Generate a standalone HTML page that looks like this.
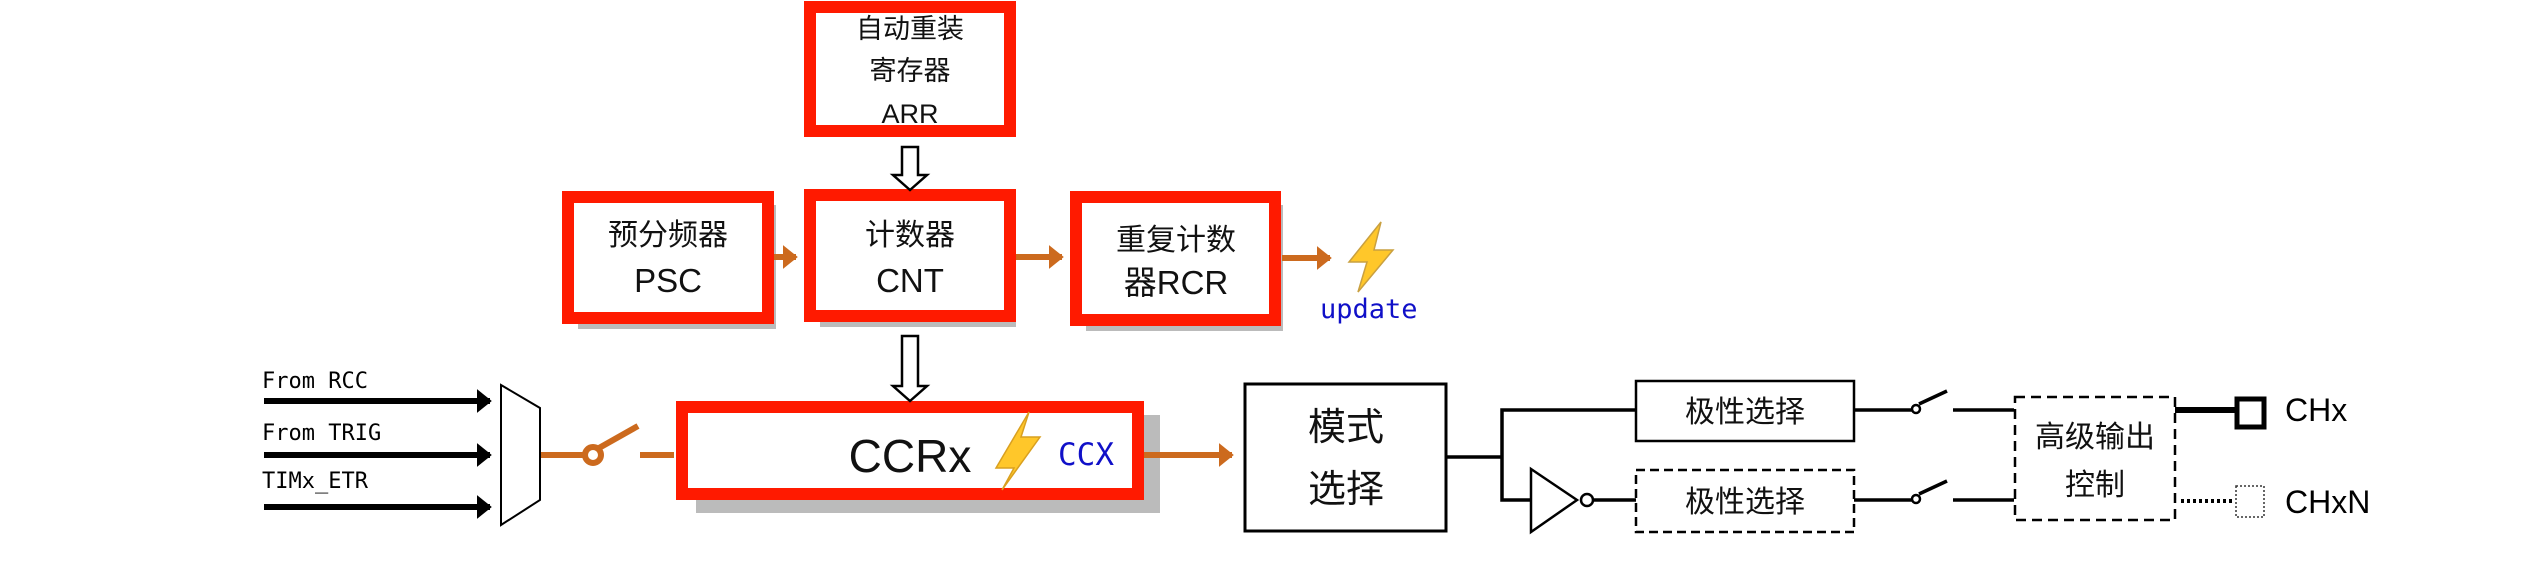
<!DOCTYPE html>
<html><head><meta charset="utf-8"><style>
html,body{margin:0;padding:0;background:#fff;}
svg{display:block;}
text{font-family:"Liberation Sans","Noto Sans CJK SC",sans-serif;}
text.m,.m text{font-family:"DejaVu Sans Mono","Liberation Mono",monospace;}
</style></head><body>
<svg width="2529" height="561" viewBox="0 0 2529 561" xmlns="http://www.w3.org/2000/svg">
<defs>
<marker id="oa" markerWidth="4" markerHeight="4" refX="2.2" refY="2" orient="auto" markerUnits="strokeWidth"><path d="M0,0 L2.5,2 L0,4 z" fill="#cc6a1e"/></marker>
<marker id="ba" markerWidth="4" markerHeight="4" refX="2.2" refY="2" orient="auto" markerUnits="strokeWidth"><path d="M0,0 L2.5,2 L0,4 z" fill="#000"/></marker>
</defs>
<g fill="#bbb">
<rect x="820" y="14" width="196" height="122"/>
<rect x="578" y="205" width="198" height="124"/>
<rect x="820" y="205" width="196" height="122"/>
<rect x="1086" y="205" width="197" height="126"/>
<rect x="696" y="415" width="464" height="98"/>
</g>
<g fill="#fff" stroke="#ff1a00" stroke-width="12">
<rect x="810" y="7" width="200" height="124"/>
<rect x="568" y="197" width="200" height="121"/>
<rect x="810" y="195" width="200" height="121"/>
<rect x="1076" y="197" width="199" height="123"/>
<rect x="682" y="407" width="456" height="87"/>
</g>
<g font-size="27" text-anchor="middle" fill="#111">
<text x="910" y="38">自动重装</text>
<text x="910" y="80">寄存器</text>
<text x="910" y="123">ARR</text>
<text x="668" y="245" font-size="30">预分频器</text>
<text x="668" y="292" font-size="33">PSC</text>
<text x="910" y="245" font-size="30">计数器</text>
<text x="910" y="292" font-size="33">CNT</text>
<text x="1176" y="250" font-size="30">重复计数</text>
<text x="1176" y="294" font-size="33">器RCR</text>
<text x="910" y="472" font-size="46">CCRx</text>
</g>
<text x="1058" y="465" font-size="31" fill="#1010c8" class="m">CCX</text>
<text x="1320" y="318" font-size="27" fill="#1010c8" class="m">update</text>
<path d="M1029,412 L996,468 L1014,468 L1002,490 L1040,437 L1021,437 Z" fill="#ffc72a" stroke="#d9a020" stroke-width="1.5"/>
<path d="M1381,222 L1349,262 L1367,262 L1358,292 L1393,250 L1374,250 Z" fill="#ffc72a" stroke="#c9a040" stroke-width="1.5"/>
<g stroke="#cc6a1e" stroke-width="6" fill="none">
<line x1="774" y1="257" x2="796" y2="257" marker-end="url(#oa)"/>
<line x1="1016" y1="257" x2="1062" y2="257" marker-end="url(#oa)"/>
<line x1="1282" y1="258" x2="1330" y2="258" marker-end="url(#oa)"/>
<line x1="1144" y1="455" x2="1232" y2="455" marker-end="url(#oa)"/>
<line x1="541" y1="455" x2="585" y2="455"/>
<circle cx="593" cy="455" r="8"/>
<line x1="599" y1="448" x2="638" y2="426"/>
<line x1="640" y1="455" x2="674" y2="455"/>
</g>
<g fill="#fff" stroke="#000" stroke-width="2.5">
<path d="M902,147 L918,147 L918,175 L927,175 L910,190 L893,175 L902,175 Z"/>
<path d="M902,336 L918,336 L918,386 L927,386 L910,401 L893,386 L902,386 Z"/>
</g>
<g font-size="22" fill="#000">
<text class="m" x="262" y="388">From RCC</text>
<text class="m" x="262" y="440">From TRIG</text>
<text class="m" x="262" y="488">TIMx_ETR</text>
</g>
<g stroke="#000" stroke-width="6">
<line x1="264" y1="401" x2="490" y2="401" marker-end="url(#ba)"/>
<line x1="264" y1="455" x2="490" y2="455" marker-end="url(#ba)"/>
<line x1="264" y1="507" x2="490" y2="507" marker-end="url(#ba)"/>
</g>
<path d="M501,385 L540,408 L540,500 L501,525 Z" fill="#fff" stroke="#000" stroke-width="2"/>
<rect x="1245" y="384" width="201" height="147" fill="#fff" stroke="#000" stroke-width="3"/>
<g font-size="38" text-anchor="middle" fill="#111"><text x="1346" y="440">模式</text><text x="1346" y="502">选择</text></g>
<g stroke="#000" stroke-width="3.5" fill="none">
<line x1="1446" y1="457" x2="1502" y2="457"/>
<polyline points="1636,410 1502,410 1502,500 1530,500"/>
<line x1="1594" y1="500" x2="1636" y2="500"/>
<line x1="1854" y1="410" x2="1912" y2="410"/>
<line x1="1953" y1="410" x2="2014" y2="410"/>
<line x1="1854" y1="500" x2="1912" y2="500"/>
<line x1="1953" y1="500" x2="2014" y2="500"/>
<line x1="1919" y1="404" x2="1947" y2="391"/>
<line x1="1919" y1="494" x2="1947" y2="481"/>
</g>
<g stroke="#000" stroke-width="2.5" fill="#fff">
<circle cx="1916" cy="409" r="4"/>
<circle cx="1916" cy="499" r="4"/>
<path d="M1531,469 L1577,500 L1531,532 Z"/>
<circle cx="1587" cy="500" r="6"/>
<rect x="1636" y="381" width="218" height="60"/>
<rect x="1636" y="470" width="218" height="62" stroke-dasharray="9,5"/>
<rect x="2015" y="397" width="160" height="123" stroke-dasharray="10,6"/>
</g>
<g font-size="30" text-anchor="middle" fill="#111">
<text x="1745" y="422">极性选择</text>
<text x="1745" y="512">极性选择</text>
<text x="2095" y="447">高级输出</text>
<text x="2095" y="495">控制</text>
</g>
<line x1="2175" y1="410" x2="2236" y2="410" stroke="#000" stroke-width="6"/>
<rect x="2237" y="399" width="27" height="28" fill="#fff" stroke="#000" stroke-width="5"/>
<line x1="2181" y1="501" x2="2234" y2="501" stroke="#000" stroke-width="4" stroke-dasharray="3,3"/>
<rect x="2236" y="486" width="28" height="31" fill="#fff" stroke="#333" stroke-width="1.5" stroke-dasharray="2,2"/>
<g font-size="32" fill="#000"><text x="2285" y="421">CHx</text><text x="2285" y="513">CHxN</text></g>
</svg>
</body></html>
